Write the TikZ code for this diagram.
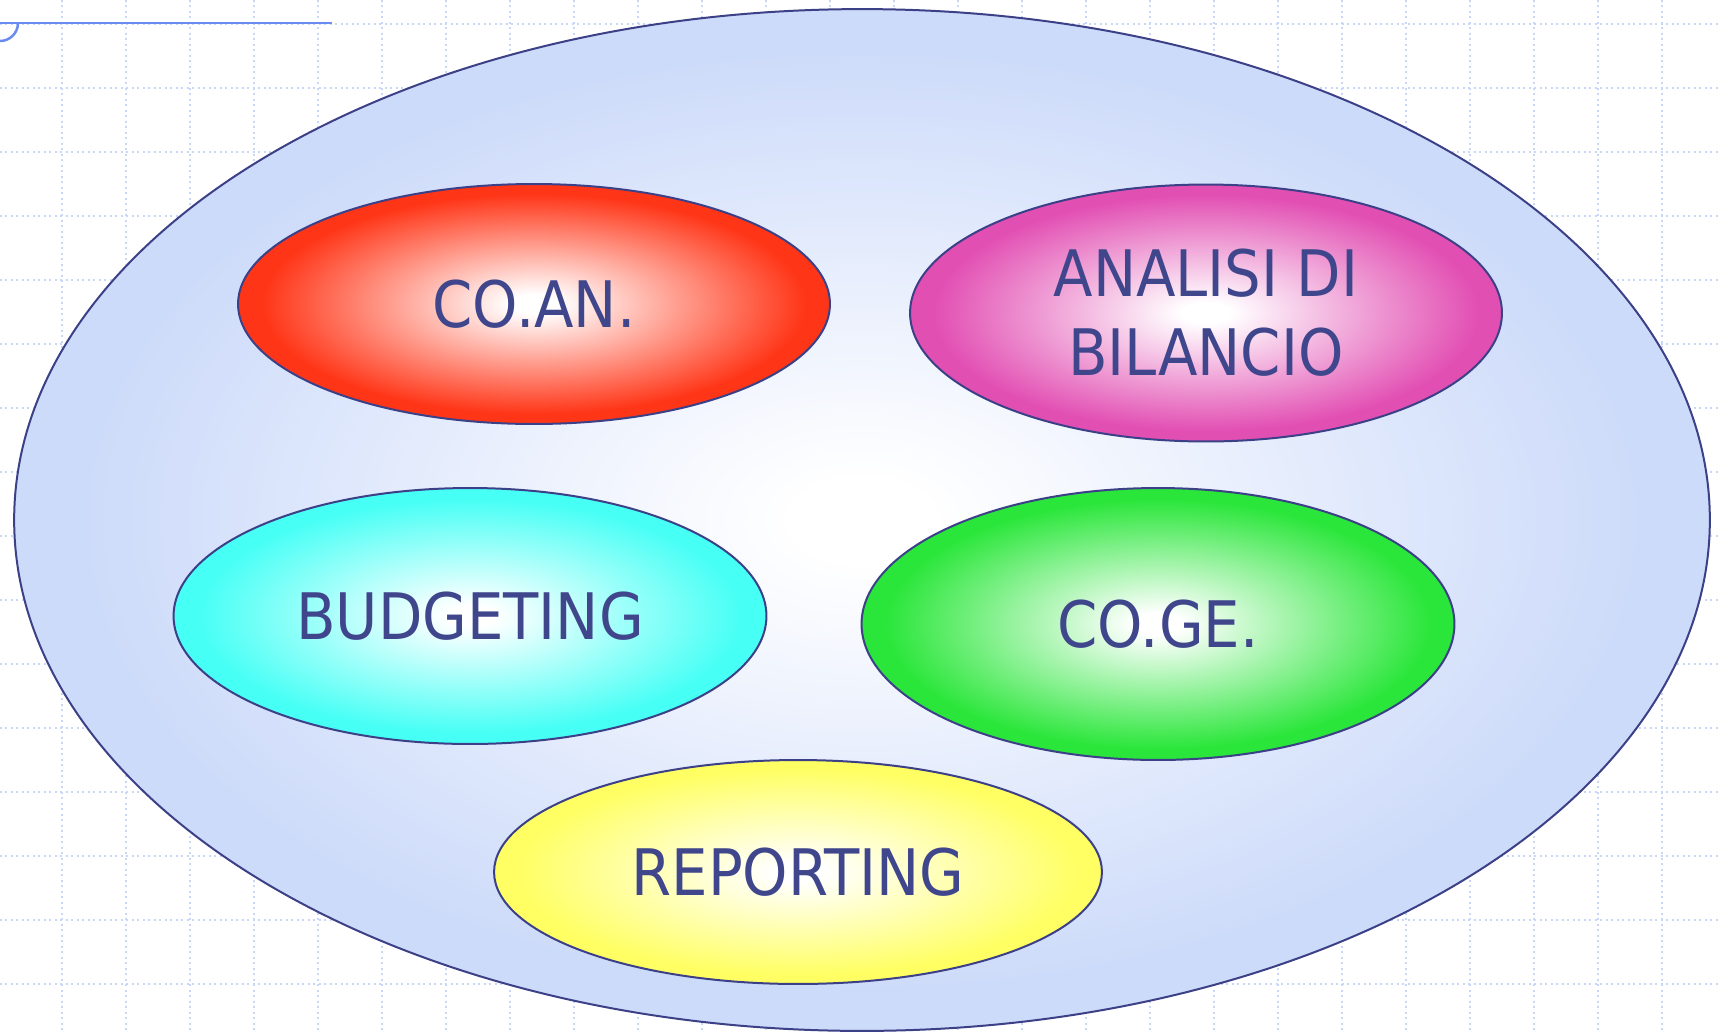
\documentclass[tikz,border=0pt]{standalone}
\usepackage{fontspec}
\setmainfont{DejaVu Sans}[FakeStretch=0.9]
\usetikzlibrary{shapes.geometric}

\definecolor{testo}{RGB}{64,70,140}
\definecolor{bordo}{RGB}{60,64,135}
\definecolor{grigliablu}{RGB}{200,214,248}
\definecolor{lineablu}{RGB}{106,140,240}
\definecolor{sfondoblu}{RGB}{205,219,250}
\definecolor{rosso}{RGB}{255,53,23}
\definecolor{magenta}{RGB}{226,79,179}
\definecolor{ciano}{RGB}{70,255,245}
\definecolor{verde}{RGB}{42,230,58}
\definecolor{giallo}{RGB}{255,255,100}

% sfumatura radiale: bianco al centro, colore pieno sul bordo
\newcommand{\sfumatura}[2]{%
  \pgfdeclareradialshading{#1}{\pgfpoint{0bp}{0bp}}%
  {color(0bp)=(white); color(2bp)=(white); color(23bp)=(#2); color(50bp)=(#2)}}
\sfumatura{sfumblu}{sfondoblu}
\sfumatura{sfumrosso}{rosso}
\sfumatura{sfummagenta}{magenta}
\sfumatura{sfumciano}{ciano}
\sfumatura{sfumverde}{verde}
\sfumatura{sfumgiallo}{giallo}

\begin{document}
\begin{tikzpicture}[x=0.02cm, y=-0.02cm, line join=round]
            \tikzstyle{griglia}=[draw=grigliablu, line width=0.045cm, dash pattern=on 0.04cm off 0.07cm]
            \tikzstyle{area}=[ellipse, draw=bordo, line width=0.04cm, inner sep=0pt, shade,
                              text=testo, font=\fontsize{36.5}{45}\selectfont, align=center]

            \useasboundingbox (0,0) rectangle (1719,1031);
            \fill[white] (0,0) rectangle (1719,1031);

            % Griglia
            \foreach \x in {62,126,...,1662} \draw[griglia] (\x,0) -- (\x,1031);
            \foreach \y in {24,88,...,984} \draw[griglia] (0,\y) -- (1719,\y);

            % Linea in alto
            \draw[lineablu, line width=0.05cm] (0,23) -- (332,23);
            \draw[lineablu, line width=0.05cm] (18,23) arc[start angle=0, end angle=90, radius=18];

            % Ellissi
            \node[area, shading=sfumblu, minimum width=33.92cm, minimum height=20.44cm] (sistema) at (862,520) {};
            \node[area, shading=sfumrosso, minimum width=11.84cm, minimum height=4.8cm] (coan) at (534,304) {CO.AN.};
            \node[area, shading=sfummagenta, minimum width=11.84cm, minimum height=5.14cm] (analisi) at (1206,313) {ANALISI DI\\BILANCIO};
            \node[area, shading=sfumciano, minimum width=11.86cm, minimum height=5.12cm] (budget) at (470,616) {BUDGETING};
            \node[area, shading=sfumverde, minimum width=11.86cm, minimum height=5.44cm] (coge) at (1158,624) {CO.GE.};
            \node[area, shading=sfumgiallo, minimum width=12.16cm, minimum height=4.48cm] (report) at (798,872) {REPORTING};
        \end{tikzpicture}
\end{document}
